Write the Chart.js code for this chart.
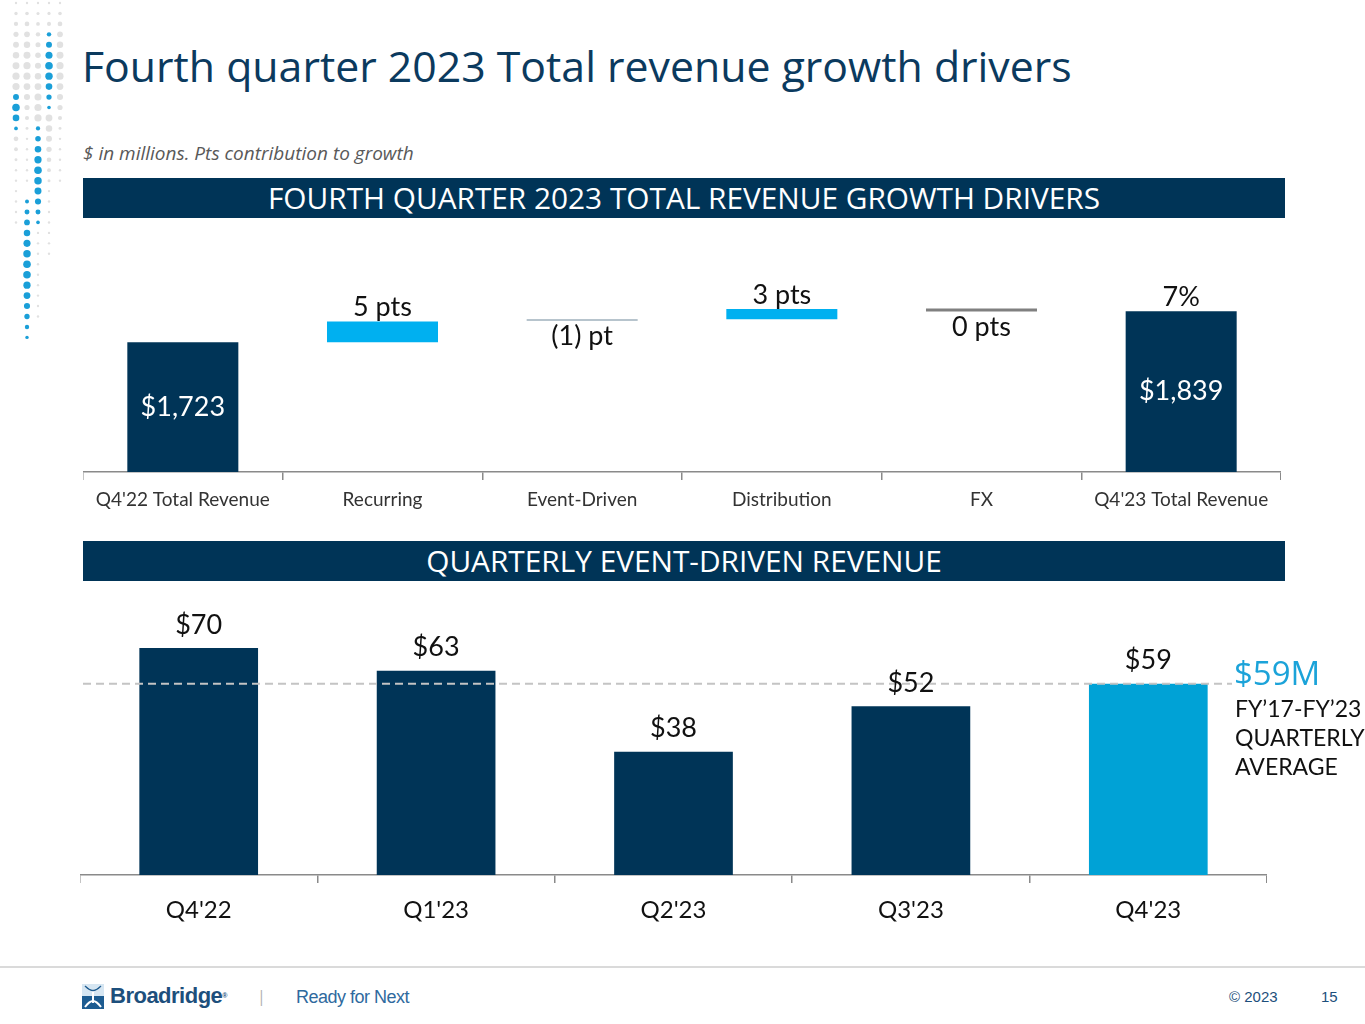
<!DOCTYPE html>
<html>
<head>
<meta charset="utf-8">
<script src="https://cdn.jsdelivr.net/npm/chart.js@4.4.0/dist/chart.umd.min.js"></script>
<style>
  html, body { margin: 0; padding: 0; background: #fff; }
  body { width: 1365px; height: 1024px; position: relative; overflow: hidden; font-family: "Open Sans", sans-serif; }
  .abs { position: absolute; }
  #title { left: 82px; top: 43px; font-size: 42.8px; line-height: 46px; color: #0b3a5e; white-space: nowrap; }
  #subtitle { left: 83px; top: 142px; font-size: 19px; line-height: 22px; font-style: italic; color: #595959; white-space: nowrap; }
  .band { left: 83px; width: 1202px; height: 40px; line-height: 40px; background: #003457; color: #fff; text-align: center; font-size: 29.8px; white-space: nowrap; }
  #band1 { top: 178px; }
  #band2 { top: 541px; }
  #topWrap { left: 83px; top: 250px; width: 1198px; height: 262px; }
  #botWrap { left: 80px; top: 600px; width: 1187px; height: 325px; }
  #avgBig { left: 1234px; top: 655px; font-size: 33px; line-height: 36px; color: #1ba3d9; white-space: nowrap; }
  #avgNote { left: 1235px; top: 694px; font-family: Lato, sans-serif; font-size: 23px; line-height: 29px; color: #111; white-space: nowrap; }
  #footLine { left: 0; top: 966px; width: 1365px; height: 2px; background: #dadada; }
  #logoText { left: 110px; top: 984px; font-family: "Liberation Sans Narrow", "Liberation Sans", sans-serif; font-weight: bold; font-size: 22px; line-height: 24px; color: #1d4f7c; letter-spacing: -0.5px; }
  #logoSep { left: 257px; top: 986px; font-size: 16px; line-height: 20px; color: #b0b0b0; }
  #tagline { left: 296px; top: 985px; font-family: "Liberation Sans Narrow", "Liberation Sans", sans-serif; font-size: 18px; line-height: 24px; color: #2f6a9e; letter-spacing: -0.5px; }
  #copy { left: 1229px; top: 988px; font-family: "Liberation Sans Narrow", "Liberation Sans", sans-serif; font-size: 15px; line-height: 18px; color: #1d4f7c; }
  #page { left: 1321px; top: 988px; font-family: "Liberation Sans Narrow", "Liberation Sans", sans-serif; font-size: 15px; line-height: 18px; color: #1d4f7c; }
</style>
</head>
<body>
<canvas id="dots" class="abs" width="70" height="350" style="left:0;top:0;"></canvas>
<div id="title" class="abs">Fourth quarter 2023 Total revenue growth drivers</div>
<div id="subtitle" class="abs">$ in millions. Pts contribution to growth</div>
<div id="band1" class="abs band">FOURTH QUARTER 2023 TOTAL REVENUE GROWTH DRIVERS</div>
<div id="topWrap" class="abs"><canvas id="driversChart"></canvas></div>
<div id="band2" class="abs band">QUARTERLY EVENT-DRIVEN REVENUE</div>
<div id="botWrap" class="abs"><canvas id="eventChart"></canvas></div>
<div id="avgBig" class="abs">$59M</div>
<div id="avgNote" class="abs">FY’17-FY’23<br>QUARTERLY<br>AVERAGE</div>
<div id="footLine" class="abs"></div>
<svg class="abs" style="left:82px;top:984px" width="22" height="25" viewBox="0 0 22 25">
  <rect x="0" y="0" width="22" height="12" fill="#d6e6f2"/>
  <rect x="0" y="12" width="22" height="13" fill="#1d5c91"/>
  <path d="M3 2 C9 8, 13 8, 19 2 M3 23 C9 15, 13 15, 19 23 M11 6 L11 19" stroke="#fff" stroke-width="2" fill="none"/>
  <path d="M3 2 C9 8, 13 8, 19 2" stroke="#1d5c91" stroke-width="1.5" fill="none"/>
</svg>
<div id="logoText" class="abs">Broadridge<span style="font-size:7px;vertical-align:top;">®</span></div>
<div id="logoSep" class="abs">|</div>
<div id="tagline" class="abs">Ready for Next</div>
<div id="copy" class="abs">© 2023</div>
<div id="page" class="abs">15</div>

<script>
// Top chart: total revenue bridge ($M, floating bars)
const driverCategories = ["Q4'22 Total Revenue", "Recurring", "Event-Driven", "Distribution", "FX", "Q4'23 Total Revenue"];
const driverAxisMin = 1237;
const driverAxisMax = 2068;
const driverStart = [driverAxisMin, 1723, 1803, 1809, 1838, driverAxisMin];
const driverEnd = [1723, 1800, 1809, 1847, 1849, 1839];
const driverAbove = ["", "5 pts", "", "3 pts", "", "7%"];
const driverBelow = ["", "", "(1) pt", "", "0 pts", ""];
const driverInside = ["$1,723", "", "", "", "", "$1,839"];
const driverColors = ["#003457", "#00b0f0", "#9fb1bd", "#00b0f0", "#808080", "#003457"];

// Bottom chart: quarterly event-driven revenue ($M)
const quarterCategories = ["Q4'22", "Q1'23", "Q2'23", "Q3'23", "Q4'23"];
const eventRevenue = [70, 63, 38, 52, 59];
const eventLabels = ["$70", "$63", "$38", "$52", "$59"];
const eventColors = ["#003457", "#003457", "#003457", "#003457", "#00a2d6"];
const quarterlyAverage = 59;

const labelFont = "27px Lato";

// decorative dot column on the left edge
(function drawDots() {
    const c = document.getElementById("dots").getContext("2d");
    const cols = [
        { x: 16, grey: [3, 230], blue: [88, 130] },
        { x: 27, grey: [3, 185], blue: [193, 340] },
        { x: 38, grey: [3, 320], blue: [120, 226] },
        { x: 49, grey: [3, 262], blue: [27, 110] },
        { x: 60, grey: [3, 185], blue: null }
    ];
    cols.forEach(col => {
        for (let y = 3; y < 345; y += 10.45) {
            let inBlue = col.blue && y >= col.blue[0] - 1 && y <= col.blue[1] + 1;
            if (inBlue) {
                let t = (y - col.blue[0]) / (col.blue[1] - col.blue[0]);
                c.fillStyle = "#1a9fd8";
                c.beginPath();
                c.arc(col.x, y, 1.6 + 2.2 * Math.sin(Math.PI * t), 0, Math.PI * 2);
                c.fill();
            } else if (y >= col.grey[0] && y <= col.grey[1]) {
                let t = (y - col.grey[0]) / (col.grey[1] - col.grey[0]);
                c.fillStyle = "#e1e1e1";
                c.beginPath();
                c.arc(col.x, y, 1.2 + 2.4 * Math.sin(Math.PI * Math.min(1, t * 1.4)), 0, Math.PI * 2);
                c.fill();
            }
        }
    });
})();

// labels for the bridge chart
const driverLabelPlugin = {
    id: "driverLabels",
    afterDatasetsDraw(chart) {
        const ctx = chart.ctx;
        const bars = chart.getDatasetMeta(0).data;
        ctx.save();
        ctx.font = labelFont;
        ctx.textAlign = "center";
        ctx.textBaseline = "middle";
        bars.forEach((bar, i) => {
            let top = Math.min(bar.y, bar.base);
            let bottom = Math.max(bar.y, bar.base);
            if (driverAbove[i]) {
                ctx.fillStyle = "#111";
                ctx.fillText(driverAbove[i], bar.x, top - 14);
            }
            if (driverBelow[i]) {
                ctx.fillStyle = "#111";
                ctx.fillText(driverBelow[i], bar.x, bottom + 16);
            }
            if (driverInside[i]) {
                ctx.fillStyle = "#fff";
                ctx.fillText(driverInside[i], bar.x, (top + bottom) / 2);
            }
        });
        ctx.restore();
    }
};

// labels + average line for the quarterly chart
const eventLabelPlugin = {
    id: "eventLabels",
    afterDatasetsDraw(chart) {
        const ctx = chart.ctx;
        const area = chart.chartArea;
        const yAvg = chart.scales.y.getPixelForValue(quarterlyAverage);
        ctx.save();
        ctx.strokeStyle = "#c4c4c4";
        ctx.lineWidth = 2;
        ctx.setLineDash([8, 5]);
        ctx.beginPath();
        ctx.moveTo(area.left + 3, yAvg);
        ctx.lineTo(area.right - 35, yAvg);
        ctx.stroke();
        ctx.setLineDash([]);
        ctx.font = labelFont;
        ctx.textAlign = "center";
        ctx.textBaseline = "middle";
        ctx.fillStyle = "#111";
        chart.getDatasetMeta(0).data.forEach((bar, i) => {
            ctx.fillText(eventLabels[i], bar.x, bar.y - 23);
        });
        ctx.restore();
    }
};

function axisX(fontSize, pad, height, color) {
    return {
        grid: { offset: true, drawOnChartArea: false, drawTicks: true, tickLength: 8, color: "#8a8a8a", lineWidth: 1.5 },
        border: { display: true, color: "#8a8a8a", width: 1.5 },
        ticks: { color: color, font: { family: "Lato", size: fontSize }, padding: pad, maxRotation: 0, autoSkip: false },
        afterFit: s => { s.height = height; }
    };
}

new Chart(document.getElementById("driversChart"), {
    type: "bar",
    data: {
        labels: driverCategories,
        datasets: [{
            data: driverStart.map((s, i) => [s, driverEnd[i]]),
            backgroundColor: driverColors,
            borderWidth: 0,
            barPercentage: 0.556,
            categoryPercentage: 1
        }]
    },
    options: {
        responsive: true,
        maintainAspectRatio: false,
        animation: false,
        layout: { padding: 0 },
        scales: {
            x: axisX(19, 8, 40, "#333"),
            y: { display: false, min: driverAxisMin, max: driverAxisMax }
        },
        plugins: { legend: { display: false }, tooltip: { enabled: false } }
    },
    plugins: [driverLabelPlugin]
});

new Chart(document.getElementById("eventChart"), {
    type: "bar",
    data: {
        labels: quarterCategories,
        datasets: [{
            data: eventRevenue,
            backgroundColor: eventColors,
            borderWidth: 0,
            barPercentage: 0.5,
            categoryPercentage: 1
        }]
    },
    options: {
        responsive: true,
        maintainAspectRatio: false,
        animation: false,
        layout: { padding: 0 },
        scales: {
            x: axisX(24, 13, 50, "#111"),
            y: { display: false, min: 0, max: 84.8 }
        },
        plugins: { legend: { display: false }, tooltip: { enabled: false } }
    },
    plugins: [eventLabelPlugin]
});
</script>
</body>
</html>
